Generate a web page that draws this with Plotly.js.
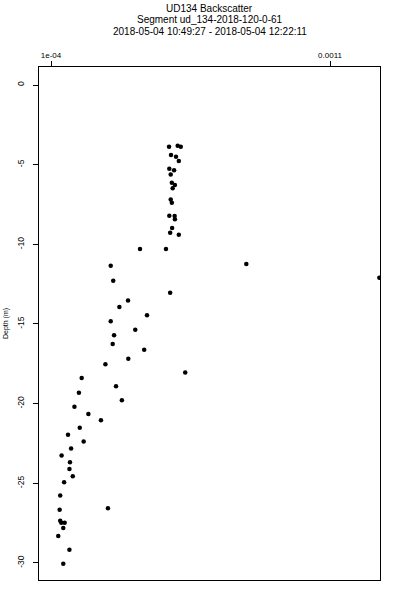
<!DOCTYPE html>
<html>
<head>
<meta charset="utf-8">
<script src="https://cdn.plot.ly/plotly-3.0.1.min.js"></script>
<style>html,body{margin:0;padding:0;background:#fff;}#chart{width:400px;height:600px;}</style>
</head>
<body>
<div id="chart"></div>
<script>
// Backscatter values (x) and depth in metres (y)
const backscatter = [
  5.23e-4, 5.54e-4, 5.65e-4, 5.30e-4, 5.48e-4, 5.58e-4, 5.24e-4, 5.41e-4, 5.29e-4, 5.33e-4,
  5.44e-4, 5.36e-4, 5.29e-4, 5.33e-4, 5.24e-4, 5.43e-4, 5.44e-4, 5.34e-4, 5.27e-4, 5.58e-4,
  4.19e-4, 5.12e-4, 3.14e-4, 8.00e-4, 1.2766e-3, 3.23e-4, 5.27e-4, 3.76e-4, 3.45e-4, 4.44e-4,
  3.14e-4, 4.02e-4, 3.26e-4, 3.21e-4, 4.34e-4, 3.77e-4, 2.95e-4, 5.81e-4, 2.10e-4, 3.33e-4,
  2.00e-4, 3.54e-4, 1.84e-4, 2.34e-4, 2.79e-4, 2.03e-4, 1.61e-4, 2.17e-4, 1.72e-4, 1.38e-4,
  1.68e-4, 1.66e-4, 1.78e-4, 1.47e-4, 1.33e-4, 1.31e-4, 3.04e-4, 1.33e-4, 1.37e-4, 1.49e-4,
  1.44e-4, 1.26e-4, 1.66e-4, 1.44e-4
];
const depth = [
  -3.87, -3.81, -3.87, -4.39, -4.50, -4.77, -5.25, -5.35, -5.61, -6.13,
  -6.28, -6.48, -7.18, -7.39, -8.20, -8.22, -8.43, -8.98, -9.27, -9.40,
  -10.30, -10.30, -11.34, -11.24, -12.10, -12.29, -13.04, -13.52, -13.94, -14.46,
  -14.83, -15.36, -15.71, -16.26, -16.62, -17.18, -17.53, -18.04, -18.39, -18.91,
  -19.32, -19.79, -20.19, -20.65, -21.05, -21.51, -21.95, -22.37, -22.81, -23.25,
  -23.68, -24.11, -24.56, -24.94, -25.76, -26.66, -26.57, -27.35, -27.48, -27.48,
  -27.81, -28.31, -29.17, -30.05
];
const xTickVals = [1e-4, 0.0011];
const xTickText = ["1e-04", "0.0011"];
const yTickVals = [0, -5, -10, -15, -20, -25, -30];
const yTickText = ["0", "-5", "-10", "-15", "-20", "-25", "-30"];
const titleLines = ["UD134 Backscatter", "Segment ud_134-2018-120-0-61", "2018-05-04 10:49:27 - 2018-05-04 12:22:11"];

const FONT = "Liberation Sans, Arial, Helvetica, sans-serif";

const trace = {
  x: backscatter,
  y: depth,
  type: "scatter",
  mode: "markers",
  marker: {color: "#000", size: 4.5, symbol: "circle", line: {width: 0}},
  hoverinfo: "x+y"
};

// title lines placed in pixels from the top (plot area spans y=67..580)
const titleTops = [8, 19.5, 31];
const annotations = titleLines.map((t, i) => ({
  text: t,
  xref: "paper", x: 0.5, xanchor: "center",
  yref: "paper", y: (580 - titleTops[i]) / 513, yanchor: "middle",
  showarrow: false,
  font: {family: FONT, size: 10, color: "#000"}
}));

const layout = {
  width: 400,
  height: 600,
  paper_bgcolor: "#fff",
  plot_bgcolor: "#fff",
  showlegend: false,
  margin: {l: 39, r: 20, t: 67, b: 20, pad: 0},
  font: {family: FONT, color: "#000", size: 8},
  annotations: annotations,
  xaxis: {
    side: "top",
    range: [5.7e-5, 1.279e-3],
    tickmode: "array",
    tickvals: xTickVals,
    ticktext: xTickText,
    ticks: "outside",
    ticklen: 5,
    tickwidth: 1,
    tickcolor: "#000",
    tickfont: {family: FONT, size: 8, color: "#000"},
    showline: true,
    linecolor: "#000",
    linewidth: 1,
    mirror: true,
    showgrid: false,
    zeroline: false
  },
  yaxis: {
    range: [-31.07, 1.13],
    tickmode: "array",
    tickvals: yTickVals,
    ticktext: yTickText,
    tickangle: -90,
    ticks: "outside",
    ticklen: 5,
    tickwidth: 1,
    tickcolor: "#000",
    ticklabelstandoff: 6,
    tickfont: {family: FONT, size: 8.5, color: "#000"},
    showline: true,
    linecolor: "#000",
    linewidth: 1,
    mirror: true,
    showgrid: false,
    zeroline: false,
    title: {text: "Depth (m)", font: {family: FONT, size: 7, color: "#000"}, standoff: 6}
  }
};

Plotly.newPlot("chart", [trace], layout, {displayModeBar: false, staticPlot: true});
</script>
</body>
</html>
